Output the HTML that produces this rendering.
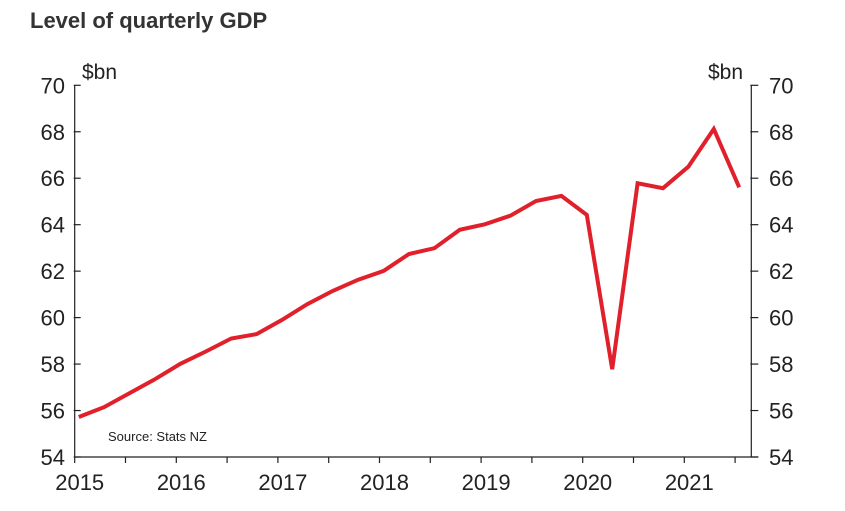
<!DOCTYPE html>
<html><head><meta charset="utf-8"><style>
body{margin:0;background:#fff;}
svg{display:block;font-family:"Liberation Sans",sans-serif;}
</style></head><body>
<svg id="chart" width="845" height="511">
<text x="30" y="28" font-size="22" font-weight="bold" fill="#333">Level of quarterly GDP</text>
<text x="82" y="79" font-size="21" fill="#222">$bn</text>
<text x="708" y="79" font-size="21" fill="#222">$bn</text>
<text x="108" y="441" font-size="13" fill="#222">Source: Stats NZ</text>
<g id="axes"></g>
<g id="series"></g>
</svg>
<script>
const yTicks=[54,56,58,60,62,64,66,68,70];
const xYears=[2015,2016,2017,2018,2019,2020,2021];
const gdp=[55.72,56.15,56.75,57.35,58.01,58.54,59.10,59.29,59.9,60.58,61.15,61.63,62.01,62.74,62.99,63.78,64.02,64.39,65.02,65.24,64.42,57.78,65.78,65.57,66.5,68.12,65.61];
const NS="http://www.w3.org/2000/svg";
const L=74.7,R=751.3,T=85.3,B=457,yMin=54,yMax=70,xMin=2015,yrPx=101.6;
const yS=v=>B-(v-yMin)/(yMax-yMin)*(B-T);
const xS=t=>L+(t-xMin)*yrPx;
function mk(tag,attrs,parent){const e=document.createElementNS(NS,tag);for(const k in attrs)e.setAttribute(k,attrs[k]);parent.appendChild(e);return e;}
const ax=document.getElementById('axes');
let e;
e=mk('line',{x1:L,y1:T,x2:L,y2:B,stroke:'#222','stroke-width':1.2},ax);


e=mk('line',{x1:R,y1:T,x2:R,y2:B,stroke:'#222','stroke-width':1.2},ax);


e=mk('line',{x1:L,y1:B,x2:R+7,y2:B,stroke:'#222','stroke-width':1.2},ax);


yTicks.forEach(v=>{
  const y=yS(v);
  mk('line',{x1:L-1,y1:y,x2:L+6,y2:y,stroke:'#222','stroke-width':1.2},ax);
  mk('line',{x1:R-1,y1:y,x2:R+7,y2:y,stroke:'#222','stroke-width':1.2},ax);
  e=mk('text',{x:65,y:y+8,'font-size':22,'text-anchor':'end',fill:'#222'},ax);e.textContent=v;
  
  
  e=mk('text',{x:769,y:y+8,'font-size':22,fill:'#222'},ax);e.textContent=v;
  
  
});
xYears.forEach(yr=>{
  const x=xS(yr);
  mk('line',{x1:x,y1:B,x2:x,y2:B+6,stroke:'#222','stroke-width':1.2},ax);
  mk('line',{x1:xS(yr+0.5),y1:B,x2:xS(yr+0.5),y2:B+6,stroke:'#222','stroke-width':1.2},ax);
  e=mk('text',{x:x+5,y:490,'font-size':22,'text-anchor':'middle',fill:'#222'},ax);e.textContent=yr;
  
  
});
const pts=gdp.map((v,i)=>xS(xMin+0.04+0.25*i).toFixed(1)+','+yS(v).toFixed(1)).join(' ');
e=mk('polyline',{points:pts,fill:'none',stroke:'#e0202a','stroke-width':4,'stroke-linejoin':'miter'},document.getElementById('series'));


</script>
</body></html>
